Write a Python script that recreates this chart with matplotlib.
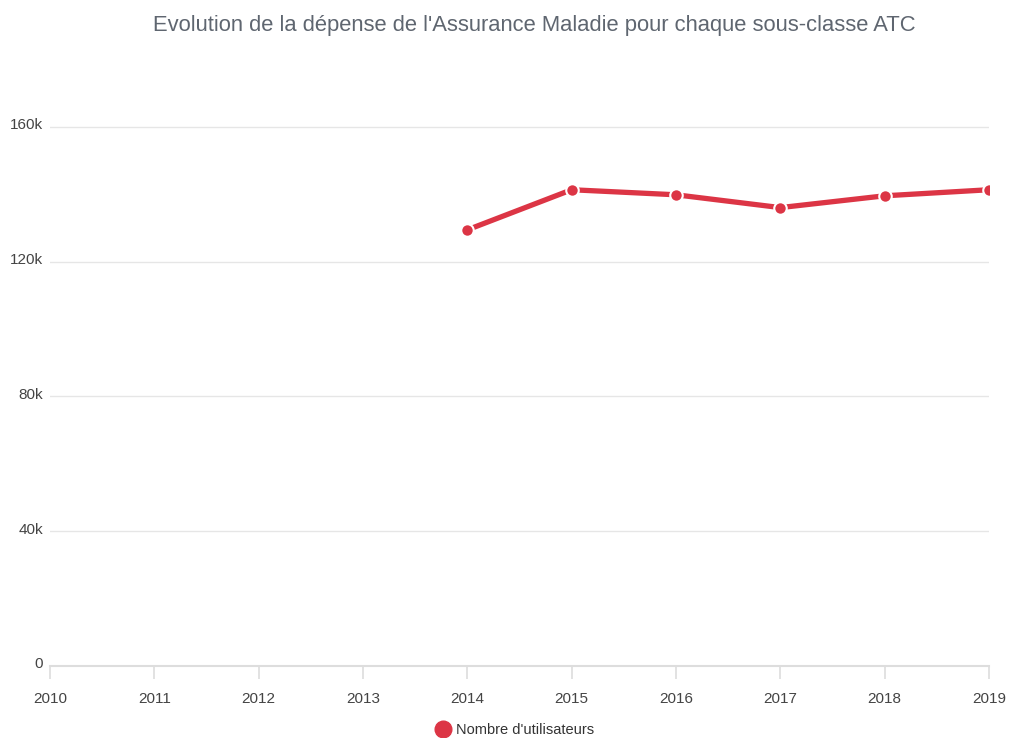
import matplotlib.pyplot as plt
from matplotlib.ticker import FuncFormatter
from matplotlib.transforms import ScaledTranslation

years = [2010, 2011, 2012, 2013, 2014, 2015, 2016, 2017, 2018, 2019]
data_years = [2014, 2015, 2016, 2017, 2018, 2019]
utilisateurs = [129400, 141300, 139800, 136000, 139500, 141300]
y_ticks = [0, 40000, 80000, 120000, 160000]

red = '#dc3545'
txt = '#444444'

plt.rcParams['font.family'] = ['Liberation Sans', 'DejaVu Sans']

fig = plt.figure(figsize=(10.1, 7.38), dpi=100)
ax = fig.add_axes([50 / 1010, 72 / 738, 939 / 1010, 573 / 738])

ax.plot(data_years, utilisateurs, color=red, lw=3.8, marker='o', markersize=9,
        markerfacecolor=red, markeredgecolor='white', markeredgewidth=1.5,
        solid_capstyle='butt', zorder=3, label="Nombre d'utilisateurs")

ax.set_xlim(2010, 2019)
ax.set_ylim(0, 170000)
ax.set_xticks(years)
ax.set_yticks(y_ticks)
ax.yaxis.set_major_formatter(FuncFormatter(lambda v, p: '0' if v == 0 else f'{int(v / 1000)}k'))

ax.grid(axis='y', color='#e6e6e6', lw=1)
ax.set_axisbelow(True)
for s in ['top', 'right', 'left']:
    ax.spines[s].set_visible(False)
ax.spines['bottom'].set_color('#dddddd')
ax.spines['bottom'].set_linewidth(1.5)

ax.tick_params(axis='x', colors='#dddddd', length=9, width=1.2, labelcolor=txt,
               labelsize=11, pad=10)
ax.tick_params(axis='y', length=0, labelcolor=txt, labelsize=11, pad=5)

# y labels sit slightly above their gridline
shift = ScaledTranslation(0, 3 / 100, fig.dpi_scale_trans)
for lab in ax.get_yticklabels():
    lab.set_transform(lab.get_transform() + shift)

fig.text(534 / 1010, 1 - 26 / 738, "Evolution de la dépense de l'Assurance Maladie pour chaque sous-classe ATC",
         ha='center', va='center', fontsize=15.8, color='#5f6670')

leg = fig.legend(handles=[plt.Line2D([], [], ls='none', marker='o', markersize=12,
                                     color=red)],
                 labels=["Nombre d'utilisateurs"], loc='center',
                 bbox_to_anchor=(515 / 1010, 1 - 730 / 738), frameon=False, fontsize=10.5,
                 handlelength=1, handletextpad=0.4, labelcolor='#333333')

fig.savefig('out.png', dpi=100)
